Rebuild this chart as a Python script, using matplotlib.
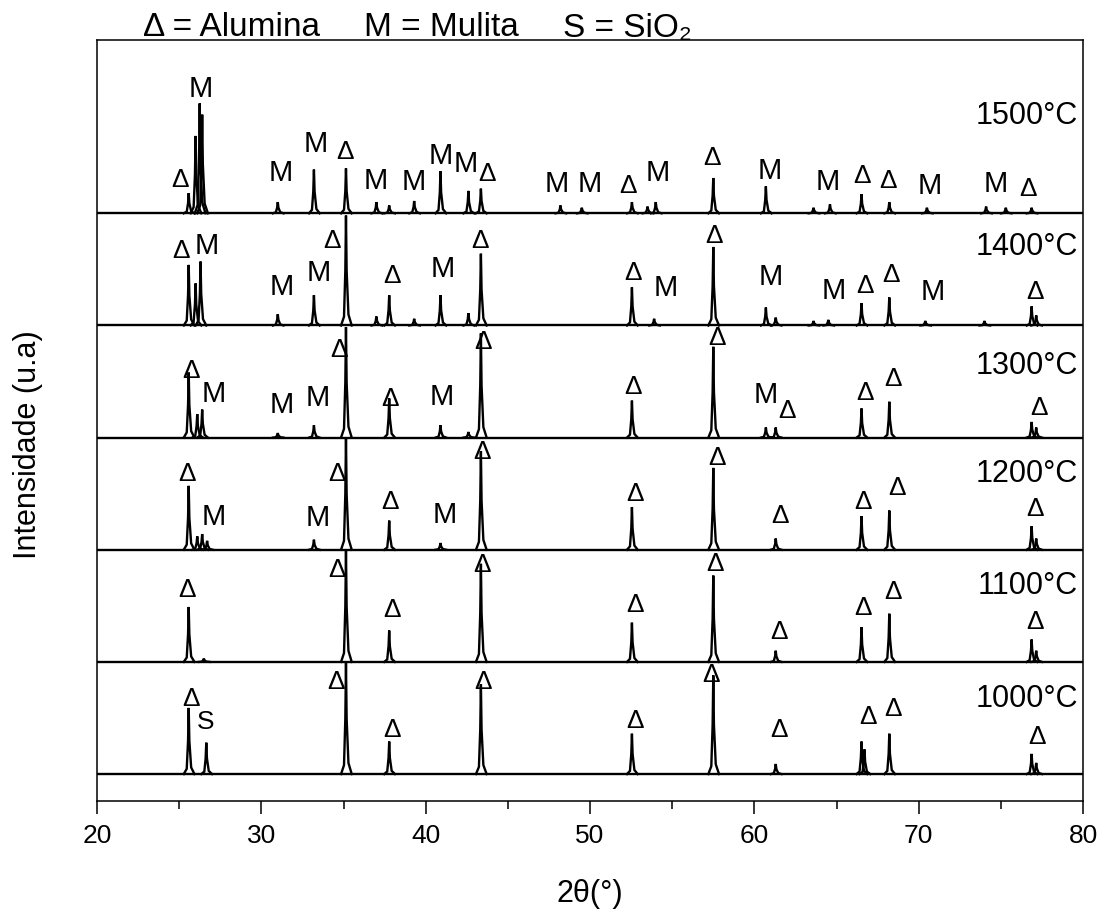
import matplotlib.pyplot as plt
from matplotlib.ticker import MultipleLocator

plt.rcParams['font.family'] = ['Liberation Sans', 'DejaVu Sans']

# --- Data ---
temps = ['1000°C', '1100°C', '1200°C', '1300°C', '1400°C', '1500°C']

# peak positions (2theta) and heights (1 = spacing between patterns)
pos_1000 = [25.58, 26.65, 35.15, 37.78, 43.36, 52.55, 57.50, 61.30, 66.52, 66.70, 68.21, 76.87, 77.15]
h_1000 = [0.59, 0.28, 0.99, 0.29, 0.80, 0.36, 0.88, 0.09, 0.29, 0.22, 0.36, 0.18, 0.10]

pos_1100 = [25.58, 26.50, 35.15, 37.78, 43.36, 52.55, 57.50, 61.30, 66.52, 68.21, 76.87, 77.15]
h_1100 = [0.49, 0.03, 0.99, 0.28, 0.875, 0.35, 0.77, 0.10, 0.31, 0.43, 0.20, 0.10]

pos_1200 = [25.58, 26.10, 26.40, 26.70, 33.20, 35.15, 37.78, 40.90, 43.36, 52.55, 57.50, 61.30, 66.52, 68.21, 76.87, 77.15]
h_1200 = [0.57, 0.12, 0.14, 0.08, 0.09, 1.00, 0.26, 0.06, 0.88, 0.38, 0.73, 0.10, 0.30, 0.35, 0.21, 0.10]

pos_1300 = [25.58, 26.10, 26.40, 31.00, 33.20, 35.15, 37.78, 40.90, 42.60, 43.36, 52.55, 57.50, 60.70, 61.30, 66.52, 68.21, 76.87, 77.15]
h_1300 = [0.58, 0.21, 0.25, 0.04, 0.11, 0.985, 0.35, 0.11, 0.05, 0.93, 0.33, 0.81, 0.09, 0.09, 0.26, 0.32, 0.14, 0.09]

pos_1400 = [25.58, 26.00, 26.30, 31.00, 33.20, 35.15, 37.00, 37.78, 39.30, 40.90, 42.60, 43.36, 52.55, 53.90,
            57.50, 60.70, 61.30, 63.60, 64.50, 66.52, 68.21, 70.40, 74.00, 76.87, 77.15]
h_1400 = [0.54, 0.375, 0.57, 0.10, 0.27, 0.98, 0.08, 0.27, 0.06, 0.27, 0.11, 0.64, 0.34, 0.06,
          0.70, 0.16, 0.07, 0.04, 0.05, 0.20, 0.25, 0.04, 0.04, 0.17, 0.09]

pos_1500 = [25.58, 26.00, 26.25, 26.40, 31.00, 33.20, 35.15, 37.00, 37.78, 39.30, 40.90, 42.60, 43.36, 48.20,
            49.50, 52.55, 53.50, 54.00, 57.50, 60.70, 63.60, 64.60, 66.52, 68.21, 70.50, 74.10, 75.30, 76.87]
h_1500 = [0.18, 0.69, 0.98, 0.88, 0.10, 0.39, 0.40, 0.10, 0.07, 0.11, 0.375, 0.20, 0.22, 0.07,
          0.05, 0.10, 0.06, 0.10, 0.315, 0.24, 0.05, 0.08, 0.17, 0.10, 0.05, 0.06, 0.05, 0.05]

# phase labels: (text, 2theta, height above the pattern baseline)
lab_1000 = [('Δ', 25.70, 0.67), ('S', 26.63, 0.46), ('Δ', 34.54, 0.82), ('Δ', 37.93, 0.39),
            ('Δ', 43.49, 0.82), ('Δ', 52.71, 0.47), ('Δ', 57.39, 0.88), ('Δ', 61.50, 0.39),
            ('Δ', 66.92, 0.51), ('Δ', 68.41, 0.58), ('Δ', 77.20, 0.33)]
lab_1100 = [('Δ', 25.50, 0.64), ('Δ', 34.62, 0.82), ('Δ', 37.93, 0.46), ('Δ', 43.41, 0.86),
            ('Δ', 52.71, 0.51), ('Δ', 57.58, 0.87), ('Δ', 61.50, 0.27), ('Δ', 66.58, 0.48),
            ('Δ', 68.41, 0.625), ('Δ', 77.08, 0.36)]
lab_1200 = [('Δ', 25.50, 0.68), ('M', 27.08, 0.29), ('M', 33.43, 0.28), ('Δ', 34.58, 0.68),
            ('Δ', 37.83, 0.43), ('M', 41.18, 0.31), ('Δ', 43.41, 0.875), ('Δ', 52.71, 0.50),
            ('Δ', 57.70, 0.82), ('Δ', 61.56, 0.30), ('Δ', 66.58, 0.43), ('Δ', 68.65, 0.55),
            ('Δ', 77.08, 0.36)]
lab_1300 = [('Δ', 25.70, 0.59), ('M', 27.08, 0.39), ('M', 31.24, 0.29), ('M', 33.43, 0.35),
            ('Δ', 34.73, 0.78), ('Δ', 37.83, 0.34), ('M', 40.97, 0.36), ('Δ', 43.49, 0.85),
            ('Δ', 52.59, 0.45), ('Δ', 57.70, 0.89), ('M', 60.68, 0.38), ('Δ', 61.99, 0.24),
            ('Δ', 66.74, 0.40), ('Δ', 68.41, 0.52), ('Δ', 77.32, 0.26)]
lab_1400 = [('Δ', 25.09, 0.66), ('M', 26.67, 0.71), ('M', 31.24, 0.34), ('M', 33.51, 0.47),
            ('Δ', 34.30, 0.75), ('Δ', 37.93, 0.44), ('M', 41.06, 0.50), ('Δ', 43.31, 0.75),
            ('Δ', 52.59, 0.47), ('M', 54.61, 0.33), ('Δ', 57.54, 0.80), ('M', 61.01, 0.43),
            ('M', 64.85, 0.31), ('Δ', 66.74, 0.35), ('Δ', 68.29, 0.45), ('M', 70.87, 0.30),
            ('Δ', 77.08, 0.30)]
lab_1500 = [('Δ', 25.05, 0.30), ('M', 26.33, 1.11), ('M', 31.20, 0.36), ('M', 33.33, 0.62),
            ('Δ', 35.09, 0.55), ('M', 36.98, 0.29), ('M', 39.29, 0.28), ('M', 40.93, 0.51),
            ('M', 42.45, 0.44), ('Δ', 43.73, 0.35), ('M', 47.99, 0.26), ('M', 50.00, 0.26),
            ('Δ', 52.31, 0.24), ('M', 54.14, 0.36), ('Δ', 57.42, 0.49), ('M', 60.95, 0.38),
            ('M', 64.48, 0.28), ('Δ', 66.55, 0.33), ('Δ', 68.13, 0.29), ('M', 70.69, 0.24),
            ('M', 74.71, 0.26), ('Δ', 76.65, 0.22)]

# temperature label height above each baseline
temp_y = [0.67, 0.68, 0.68, 0.64, 0.70, 0.87]

# key at the top
key_text = ['Δ = Alumina', 'M = Mulita', 'S = SiO₂']

positions = [pos_1000, pos_1100, pos_1200, pos_1300, pos_1400, pos_1500]
heights = [h_1000, h_1100, h_1200, h_1300, h_1400, h_1500]
labels = [lab_1000, lab_1100, lab_1200, lab_1300, lab_1400, lab_1500]

# --- Plotting ---
fig = plt.figure(figsize=(11.01, 9.10), dpi=100)
ax = fig.add_axes([0.0881, 0.1198, 0.8956, 0.8362])

# spike shape used for every peak (offsets in degrees, fraction of height)
shape_dx = [-0.30, -0.12, -0.04, 0.0, 0.04, 0.15, 0.35]
shape_fy = [0.0, 0.08, 0.5, 1.0, 0.5, 0.1, 0.0]

for i in range(len(temps)):
    off = i
    ax.plot([20, 80], [off, off], color='black', lw=1.7)
    for p, h in zip(positions[i], heights[i]):
        ax.plot([p + d for d in shape_dx], [off + h * f for f in shape_fy],
                color='black', lw=1.7, solid_joinstyle='miter')
    for s, x, y in labels[i]:
        fs = 21 if s == 'M' else 19
        ax.text(x, off + y, s, ha='center', va='center', fontsize=fs)
    ax.text(79.7, off + temp_y[i], temps[i], ha='right', va='center', fontsize=22)

ax.set_xlim(20, 80)
ax.set_ylim(-0.24, 6.545)
ax.set_yticks([])
ax.xaxis.set_major_locator(MultipleLocator(10))
ax.xaxis.set_minor_locator(MultipleLocator(5))
ax.tick_params(axis='x', which='major', direction='out', length=9.5, width=1.1, labelsize=19, pad=7)
ax.tick_params(axis='x', which='minor', direction='out', length=6, width=1.1)
for sp in ax.spines.values():
    sp.set_linewidth(1.1)

ax.set_xlabel('2θ(°)', fontsize=22)
ax.xaxis.set_label_coords(0.5, -0.102)
ax.set_ylabel('Intensidade (u.a)', fontsize=22)
ax.yaxis.set_label_coords(-0.055, 0.468)

# key positions in pixels of the figure
key_px = [143, 364, 563]
for t, px in zip(key_text, key_px):
    fig.text(px / 1101, 1 - 28 / 910, t, fontsize=24, ha='left', va='center')

fig.savefig('out.png', dpi=100)
